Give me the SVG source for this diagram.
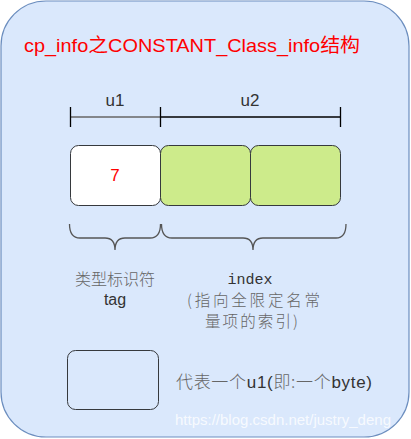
<svg xmlns="http://www.w3.org/2000/svg" width="411" height="439" viewBox="0 0 411 439">
<style>
.t{font-family:Liberation Sans,Arial,sans-serif;fill:#333}
.cn{font-family:Noto Sans CJK SC,sans-serif;fill:#666;font-weight:300}
.box{stroke:#36393d;stroke-width:1}
.ln{fill:none;stroke-width:1.3}
</style>
<g id="bg"><rect x="1" y="1" width="408" height="436" rx="45" ry="45" fill="#dae8fc" stroke="#6c8ebf" stroke-width="1.2"/></g>
<g id="title"><text x="24" y="52" font-size="19" fill="#ff0000" font-family="Liberation Sans,Noto Sans CJK SC,sans-serif" textLength="336" lengthAdjust="spacingAndGlyphs">cp_info之CONSTANT_Class_info结构</text></g>
<g id="connectors">
<path class="ln" d="M70.5 117H160.5" stroke="#666"/>
<path class="ln" d="M160.5 117H340.5" stroke="#000"/>
<path class="ln" d="M70.5 107V127M160.5 107V127M340.5 107V127" stroke="#000"/>
<path class="ln" stroke="#555" d="M69.5 224Q69.5 238 80 238H105Q115 238 115 250Q115 238 125 238H150Q160.5 238 160.5 224"/>
<path class="ln" stroke="#555" d="M161.5 224Q161.5 238 172 238H243Q253 238 253 250Q253 238 263 238H336Q346 238 346 224"/>
</g>
<g id="u1label"><text class="t" x="115" y="106" font-size="17" text-anchor="middle">u1</text></g>
<g id="u2label"><text class="t" x="250" y="106" font-size="17" text-anchor="middle">u2</text></g>
<g id="tagbox"><rect class="box" x="70.5" y="145.5" width="90" height="60" rx="8" fill="#fff"/><text x="115" y="181" font-size="17" text-anchor="middle" fill="#ff0000" font-family="Liberation Sans,sans-serif">7</text></g>
<g id="idx1"><rect class="box" x="160.5" y="145.5" width="90" height="60" rx="8" fill="#cdeb8b"/></g>
<g id="idx2"><rect class="box" x="250.5" y="145.5" width="90" height="60" rx="8" fill="#cdeb8b"/></g>
<g id="taglabel"><text class="cn" x="115" y="285" font-size="16" text-anchor="middle">类型标识符</text><text class="t" x="115" y="305" font-size="16" text-anchor="middle">tag</text></g>
<g id="indexlabel"><text x="250" y="284" font-size="15" text-anchor="middle" fill="#333" font-family="Liberation Mono,monospace">index</text><text class="cn" x="187" y="306" font-size="15.5" textLength="133" lengthAdjust="spacing">(指向全限定名常</text><text class="cn" x="205" y="327" font-size="15.5" textLength="93" lengthAdjust="spacing">量项的索引)</text></g>
<g id="legend"><rect class="box" x="67.5" y="350.5" width="91" height="59" rx="8" fill="none"/><text class="t" x="176" y="388" font-size="17" textLength="196" lengthAdjust="spacing"><tspan class="cn">代表一个</tspan>u1(<tspan class="cn">即:一个</tspan>byte)</text></g>
<g id="watermark"><text x="175" y="425" font-size="15" fill="#ffffff" fill-opacity="0.8" font-family="Liberation Sans,sans-serif">https://blog.csdn.net/justry_deng</text></g>
</svg>
